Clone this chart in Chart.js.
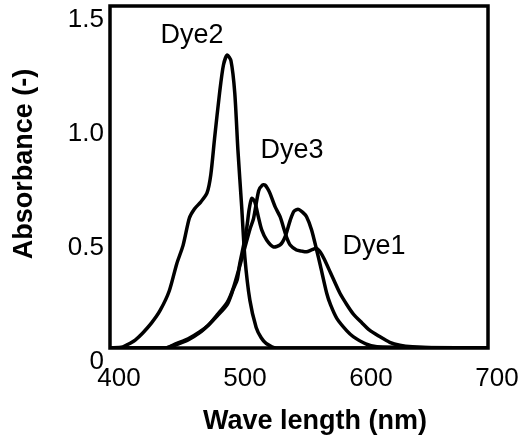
<!DOCTYPE html>
<html>
<head>
  <title>Dye absorbance</title>
  <style>
    body { margin: 0; background: #fff; }
    #wrap { width: 525px; height: 443px; }
  </style>
</head>
<body>
  <div id="wrap"><canvas id="spectra" width="525" height="443"></canvas></div>

  <script src="https://cdn.jsdelivr.net/npm/chart.js"></script>
  <script>
    // wavelength (nm) / absorbance
    const dye2Wave = [400, 410, 414, 420, 426, 433, 440, 447, 453, 458, 463, 467, 472, 477, 480, 483, 487, 490, 493, 496, 499, 501.5, 504.5, 507, 511, 516, 520, 524, 532, 700];
    const dye2Abs  = [0, 0.005, 0.015, 0.035, 0.066, 0.11, 0.167, 0.25, 0.37, 0.45, 0.57, 0.61, 0.64, 0.68, 0.76, 0.92, 1.12, 1.24, 1.285, 1.26, 1.12, 0.87, 0.62, 0.40, 0.21, 0.09, 0.045, 0.02, 0, 0];

    const dye3Wave = [400, 444, 453, 462, 471, 478, 485, 493, 498, 501, 503, 506, 508.6, 510.5, 512.5, 515, 517.7, 520.4, 524.3, 529.6, 535, 539, 543, 546, 549.5, 553, 556, 560, 564, 567, 572, 575, 580, 588, 593, 603, 612, 700];
    const dye3Abs  = [0, 0, 0.015, 0.035, 0.066, 0.10, 0.14, 0.19, 0.26, 0.30, 0.37, 0.45, 0.53, 0.61, 0.656, 0.64, 0.576, 0.518, 0.474, 0.444, 0.452, 0.488, 0.56, 0.60, 0.608, 0.595, 0.576, 0.518, 0.43, 0.36, 0.24, 0.19, 0.13, 0.075, 0.05, 0.018, 0.005, 0];

    const dye1Wave = [400, 444, 453, 462, 471, 478, 485, 493, 498, 503, 507, 511, 514, 518, 521, 523, 525, 527, 531, 535, 537.5, 540, 543, 548, 552, 556, 560, 564, 567, 570, 575, 582.5, 588, 593, 600, 606, 614, 622, 630, 640, 660, 700];
    const dye1Abs  = [0, 0, 0.02, 0.04, 0.07, 0.10, 0.145, 0.20, 0.265, 0.36, 0.44, 0.52, 0.57, 0.69, 0.715, 0.715, 0.70, 0.678, 0.62, 0.576, 0.532, 0.488, 0.452, 0.43, 0.425, 0.422, 0.43, 0.437, 0.42, 0.39, 0.33, 0.24, 0.19, 0.15, 0.11, 0.078, 0.05, 0.025, 0.012, 0.005, 0, 0];

    const xTicks = [400, 500, 600, 700];
    const yTicks = [0, 0.5, 1.0, 1.5];

    // curve labels, placed in data coordinates
    const labelText = ['Dye1', 'Dye2', 'Dye3'];
    const labelWave = [609.5, 465, 544.4];
    const labelAbs  = [0.443, 1.37, 0.864];

    const xTitle = 'Wave length (nm)';
    const yTitle = 'Absorbance (-)';

    function toPoints(xs, ys) {
      return xs.map((x, i) => ({ x: x, y: ys[i] }));
    }

    Chart.defaults.font.family = '"Liberation Sans", Arial, sans-serif';
    Chart.defaults.color = '#000';

    const frame = {
      id: 'frame',
      afterDatasetsDraw(chart) {
        const { ctx, chartArea: a } = chart;
        ctx.save();
        ctx.lineWidth = 3.5;
        ctx.strokeStyle = '#000';
        ctx.strokeRect(a.left, a.top, a.right - a.left, a.bottom - a.top);
        ctx.restore();
      }
    };

    // curve names and axis titles (the titles sit a bit off-centre in the original)
    const texts = {
      id: 'texts',
      afterDraw(chart) {
        const { ctx, chartArea: a } = chart;
        const xs = chart.scales.x, ys = chart.scales.y;
        ctx.save();
        ctx.fillStyle = '#000';
        ctx.textAlign = 'center';
        ctx.textBaseline = 'middle';
        ctx.font = '27px "Liberation Sans", Arial, sans-serif';
        labelText.forEach((t, i) => {
          ctx.fillText(t, xs.getPixelForValue(labelWave[i]), ys.getPixelForValue(labelAbs[i]));
        });
        ctx.font = 'bold 27px "Liberation Sans", Arial, sans-serif';
        ctx.fillText(xTitle, (a.left + a.right) / 2 + 16, 422);
        ctx.translate(25, (a.top + a.bottom) / 2 - 13);
        ctx.rotate(-Math.PI / 2);
        ctx.fillText(yTitle, 0, 0);
        ctx.restore();
      }
    };

    const line = (label, xs, ys) => ({
      label: label,
      data: toPoints(xs, ys),
      borderColor: '#000',
      borderWidth: 3.5,
      pointRadius: 0,
      tension: 0.25,
      fill: false
    });

    new Chart(document.getElementById('spectra'), {
      type: 'line',
      data: {
        datasets: [
          line('Dye1', dye1Wave, dye1Abs),
          line('Dye2', dye2Wave, dye2Abs),
          line('Dye3', dye3Wave, dye3Abs)
        ]
      },
      options: {
        responsive: false,
        animation: false,
        layout: { padding: { left: 0, right: 37, top: 6, bottom: 0 } },
        plugins: { legend: { display: false }, tooltip: { enabled: false } },
        scales: {
          x: {
            type: 'linear',
            min: 400,
            max: 700,
            grid: { display: false, drawTicks: false },
            border: { display: false },
            afterBuildTicks: s => { s.ticks = xTicks.map(v => ({ value: v })); },
            ticks: {
              font: { size: 26 },
              padding: 15,
              labelOffset: 9,
              maxRotation: 0,
              autoSkip: false
            },
            afterFit: s => { s.height = 95; s.paddingLeft = 0; s.paddingRight = 0; }
          },
          y: {
            min: 0,
            max: 1.5,
            grid: { display: false, drawTicks: false },
            border: { display: false },
            afterBuildTicks: s => { s.ticks = yTicks.map(v => ({ value: v })); },
            ticks: {
              font: { size: 26 },
              padding: 6,
              labelOffset: 14,
              autoSkip: false,
              callback: v => (v === 0 ? '0' : v.toFixed(1))
            },
            afterFit: s => { s.width = 110; s.paddingTop = 0; s.paddingBottom = 0; }
          }
        }
      },
      plugins: [frame, texts]
    });
  </script>
</body>
</html>
